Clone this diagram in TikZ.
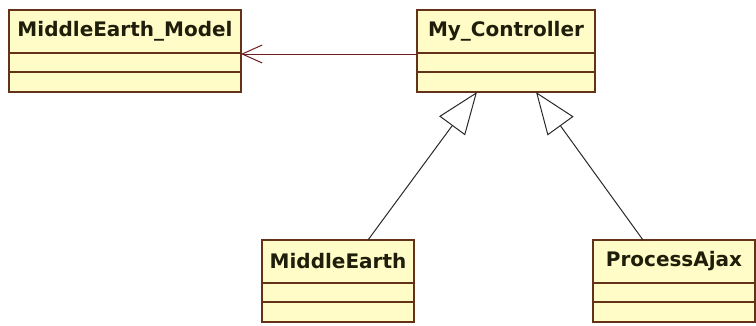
\documentclass[tikz,border=0pt]{standalone}
\usepackage{fontspec}
\setmainfont{DejaVu Sans}
\usetikzlibrary{arrows.meta}
\definecolor{classfill}{RGB}{255,252,200}
\definecolor{classline}{RGB}{100,50,25}
\definecolor{assocline}{RGB}{110,30,30}
\definecolor{genline}{RGB}{45,40,40}
\definecolor{textdark}{RGB}{30,30,10}

\begin{document}
\begin{tikzpicture}[x=1pt,y=-1pt,
  classbox/.style={draw=classline, fill=classfill, line width=1.4pt,
    inner sep=0pt, outer sep=0pt},
  classname/.style={classbox, minimum height=43pt,
    font=\fontsize{20}{24}\selectfont\bfseries, text=textdark},
  compartment/.style={classbox, anchor=north, minimum height=#1},
  compartment/.default=19pt,
  assoc/.style={draw=assocline, line width=1pt,
    -{Straight Barb[length=20pt,width=18pt,line width=1pt]}},
  generalize/.style={draw=genline, line width=1pt,
    -{Triangle[open,length=42pt,width=32pt,line width=1pt]}}]

  \fill[white] (0,0) rectangle (756,325);
  \useasboundingbox (0,0) rectangle (756,325);

  % MiddleEarth_Model
  \node[classname, minimum width=232pt] (model) at (125,31.5) {MiddleEarth\_Model};
  \node[compartment, minimum width=232pt] (model-a) at (model.south) {};
  \node[compartment=20pt, minimum width=232pt] (model-o) at (model-a.south) {};

  % My_Controller
  \node[classname, minimum width=178pt] (ctrl) at (506,31.5) {My\_Controller};
  \node[compartment, minimum width=178pt] (ctrl-a) at (ctrl.south) {};
  \node[compartment=20pt, minimum width=178pt] (ctrl-o) at (ctrl-a.south) {};

  % MiddleEarth
  \node[classname, minimum width=152pt] (me) at (338,261.5) {MiddleEarth};
  \node[compartment, minimum width=152pt] (me-a) at (me.south) {};
  \node[compartment=20pt, minimum width=152pt] (me-o) at (me-a.south) {};

  % ProcessAjax
  \node[classname, minimum width=162pt] (pa) at (674,261.5) {ProcessAjax};
  \node[compartment, minimum width=162pt] (pa-a) at (pa.south) {};
  \node[compartment=20pt, minimum width=162pt] (pa-o) at (pa-a.south) {};

  % association
  \draw[assoc] ([yshift=-1pt]ctrl.south west) -- ([yshift=-1pt]model.south east);

  % generalizations
  \draw[generalize] ([xshift=30pt]me.north) -- ([xshift=-29pt]ctrl-o.south);
  \draw[generalize] ([xshift=-31pt]pa.north) -- ([xshift=30pt]ctrl-o.south);
\end{tikzpicture}
\end{document}
